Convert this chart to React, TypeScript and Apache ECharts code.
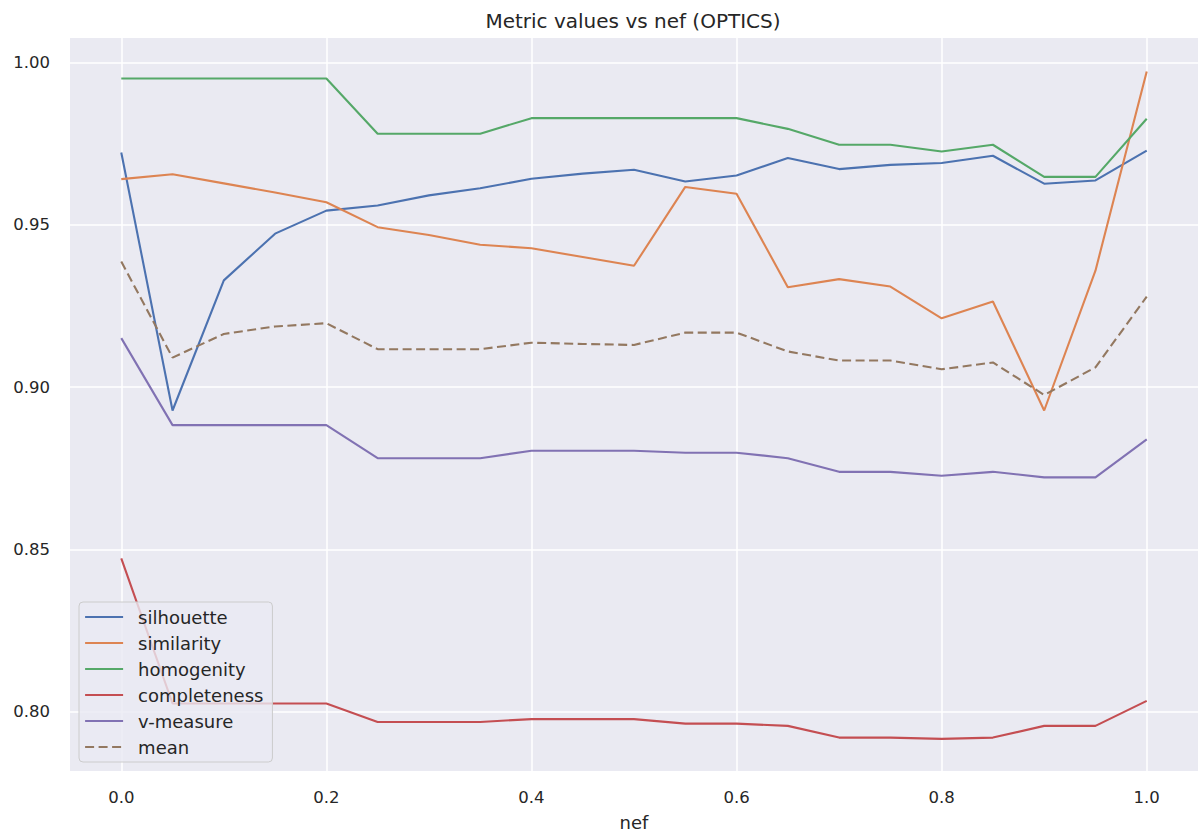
import React, { useEffect, useRef } from "react";
import * as echarts from "echarts";

const nef = [0, 0.05, 0.1, 0.15, 0.2, 0.25, 0.3, 0.35, 0.4, 0.45, 0.5, 0.55, 0.6, 0.65, 0.7, 0.75, 0.8, 0.85, 0.9, 0.95, 1.0];

const silhouette = [0.9723, 0.8928, 0.9329, 0.9473, 0.9544, 0.956, 0.9591, 0.9613, 0.9642, 0.9658, 0.967, 0.9634, 0.9652, 0.9706, 0.9672, 0.9685, 0.9691, 0.9713, 0.9627, 0.9637, 0.9729];
const similarity = [0.9641, 0.9656, 0.9628, 0.96, 0.957, 0.9493, 0.9469, 0.9439, 0.9428, 0.9401, 0.9374, 0.9617, 0.9596, 0.9308, 0.9333, 0.931, 0.9212, 0.9264, 0.8928, 0.9359, 0.9973];
const homogenity = [0.9951, 0.9951, 0.9951, 0.9951, 0.9951, 0.9781, 0.9781, 0.9781, 0.9829, 0.9829, 0.9829, 0.9829, 0.9829, 0.9796, 0.9747, 0.9747, 0.9726, 0.9747, 0.9648, 0.9648, 0.9827];
const completeness = [0.8472, 0.8025, 0.8025, 0.8025, 0.8025, 0.7968, 0.7968, 0.7968, 0.7977, 0.7977, 0.7977, 0.7963, 0.7963, 0.7956, 0.792, 0.792, 0.7916, 0.792, 0.7956, 0.7956, 0.8033];
const vMeasure = [0.9151, 0.8883, 0.8883, 0.8883, 0.8883, 0.8781, 0.8781, 0.8781, 0.8804, 0.8804, 0.8804, 0.8798, 0.8798, 0.8781, 0.8739, 0.8739, 0.8727, 0.8739, 0.8722, 0.8722, 0.8839];
const mean = [0.9387, 0.9091, 0.9164, 0.9187, 0.9197, 0.9117, 0.9117, 0.9117, 0.9137, 0.9133, 0.913, 0.9168, 0.9168, 0.911, 0.9082, 0.9082, 0.9055, 0.9076, 0.8976, 0.9061, 0.9279];

const xTicks = [0, 0.2, 0.4, 0.6, 0.8, 1.0];
const yTicks = [0.8, 0.85, 0.9, 0.95, 1.0];

const seriesDefs = [
  { name: "silhouette", values: silhouette, color: "#4C72B0", dashed: false },
  { name: "similarity", values: similarity, color: "#DD8452", dashed: false },
  { name: "homogenity", values: homogenity, color: "#55A868", dashed: false },
  { name: "completeness", values: completeness, color: "#C44E52", dashed: false },
  { name: "v-measure", values: vMeasure, color: "#8172B3", dashed: false },
  { name: "mean", values: mean, color: "#937860", dashed: true },
];

const FONT = "DejaVu Sans";
const TEXT = "#262626";

export default function App() {
  const ref = useRef<HTMLDivElement>(null);
  useEffect(() => {
    if (!ref.current) return;
    const chart = echarts.init(ref.current, null, { renderer: "svg" });
    chart.setOption({
      animation: false,
      graphic: [
        {
          type: "text",
          x: 633,
          y: 21,
          style: {
            text: "Metric values vs nef (OPTICS)",
            fill: TEXT,
            font: `20px "${FONT}"`,
            align: "center",
            verticalAlign: "middle",
          },
        },
      ],
      grid: {
        left: 70,
        right: 1,
        top: 38,
        bottom: 62,
        show: true,
        backgroundColor: "#EAEAF2",
        borderWidth: 0,
        containLabel: false,
        outerBoundsMode: "none",
      },
      legend: {
        orient: "vertical",
        left: 79,
        top: 602,
        backgroundColor: "rgba(234,234,242,0.8)",
        borderColor: "#cccccc",
        borderWidth: 1,
        borderRadius: 4,
        padding: [6, 9, 6, 5],
        itemWidth: 38,
        itemHeight: 14,
        itemGap: 8,
        itemStyle: { opacity: 0 },
        lineStyle: { width: 2.2 },
        textStyle: { fontFamily: FONT, fontSize: 18, color: TEXT, padding: [0, 0, 0, 10] },
        data: seriesDefs.map((s) => s.name),
      },
      xAxis: {
        type: "value",
        min: -0.05,
        max: 1.05,
        name: "nef",
        nameLocation: "middle",
        nameGap: 42,
        nameTextStyle: { fontFamily: FONT, fontSize: 18, color: TEXT },
        axisLine: { show: false },
        axisTick: { show: false, customValues: xTicks },
        axisLabel: {
          customValues: xTicks,
          formatter: (v: number) => v.toFixed(1),
          fontFamily: FONT,
          fontSize: 16.5,
          color: TEXT,
          margin: 18,
        },
        splitLine: { show: true, lineStyle: { color: "#ffffff", width: 1.5 } },
      },
      yAxis: {
        type: "value",
        min: 0.7817,
        max: 1.0076,
        axisLine: { show: false },
        axisTick: { show: false, customValues: yTicks },
        axisLabel: {
          customValues: yTicks,
          formatter: (v: number) => v.toFixed(2),
          fontFamily: FONT,
          fontSize: 16.5,
          color: TEXT,
          margin: 20,
        },
        splitLine: { show: true, lineStyle: { color: "#ffffff", width: 1.5 } },
      },
      series: seriesDefs.map((s) => ({
        name: s.name,
        type: "line",
        symbol: "none",
        data: nef.map((x, i) => [x, s.values[i]]),
        itemStyle: { color: s.color },
        lineStyle: { color: s.color, width: 2.1, type: s.dashed ? [9, 4.5] : "solid" },
      })),
    });
    return () => chart.dispose();
  }, []);
  return (
    <div
      ref={ref}
      style={{ position: "fixed", left: 0, top: 0, width: 1199, height: 833, background: "#ffffff" }}
    />
  );
}
